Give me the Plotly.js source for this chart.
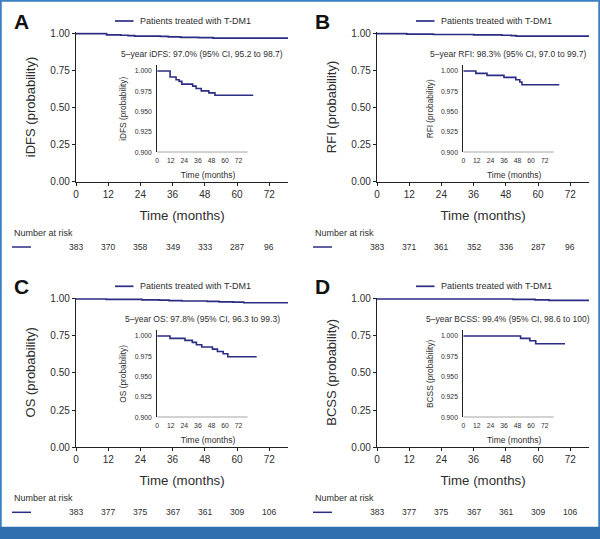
<!DOCTYPE html>
<html>
<head>
<meta charset="utf-8">
<script src="https://cdn.plot.ly/plotly-3.0.1.min.js"></script>
<style>html,body{margin:0;padding:0;background:#fff;}#chart{width:600px;height:539px;}</style>
</head>
<body>
<div id="chart"></div>
<script>
// ---- data ----
const panelLetters = ['A', 'B', 'C', 'D'];
const endpointNames = ['iDFS', 'RFI', 'OS', 'BCSS'];
const fiveYearTexts = [
  '5\u2013year iDFS: 97.0% (95% CI, 95.2 to 98.7)',
  '5\u2013year RFI: 98.3% (95% CI, 97.0 to 99.7)',
  '5\u2013year OS: 97.8% (95% CI, 96.3 to 99.3)',
  '5\u2013year BCSS: 99.4% (95% CI, 98.6 to 100)'
];
const seriesName = 'Patients treated with T-DM1';

const iDFS_time = [0, 11.4, 16.7, 19.4, 21.8, 31.4, 34.4, 39.0, 45.7, 51.1, 85];
const iDFS_surv = [1.000, 0.9926, 0.9893, 0.9872, 0.9839, 0.9814, 0.9785, 0.9756, 0.9731, 0.9702, 0.9702];

const RFI_time = [0, 11.1, 21.0, 36.0, 46.5, 50.0, 51.9, 85];
const RFI_surv = [1.000, 0.9971, 0.9946, 0.9921, 0.9893, 0.9864, 0.9831, 0.9831];

const OS_time = [0, 11.3, 24.6, 31.1, 34.7, 39.4, 48.9, 53.3, 58.4, 62.5, 88];
const OS_surv = [1.000, 0.9971, 0.9946, 0.9921, 0.9893, 0.9864, 0.9839, 0.9810, 0.9781, 0.9744, 0.9744];

const BCSS_time = [0, 50.7, 58.9, 64.1, 90];
const BCSS_surv = [1.000, 0.9971, 0.9942, 0.9905, 0.9905];

const riskTimes = [0, 12, 24, 36, 48, 60, 72];
const iDFS_risk = [383, 370, 358, 349, 333, 287, 96];
const RFI_risk = [383, 371, 361, 352, 336, 287, 96];
const OS_risk = [383, 377, 375, 367, 361, 309, 106];
const BCSS_risk = [383, 377, 375, 367, 361, 309, 106];

const xTicks = [0, 12, 24, 36, 48, 60, 72];
const mainYTicks = [0, 0.25, 0.5, 0.75, 1.0];
const insetYTicks = [0.900, 0.925, 0.950, 0.975, 1.000];

const times = [iDFS_time, RFI_time, OS_time, BCSS_time];
const survs = [iDFS_surv, RFI_surv, OS_surv, BCSS_surv];
const risks = [iDFS_risk, RFI_risk, OS_risk, BCSS_risk];

// ---- layout geometry (pixels of the 600x539 picture) ----
const W = 600, H = 539;
const PX = v => v / W;
const PY = v => 1 - v / H;

const NAVY = '#2b2d84';
const AX = '#222';
const TXT = '#2e2e2e';
const FONT = 'Liberation Sans, Arial, sans-serif';

const geo = [
  {ox: 0,   oy: 0},
  {ox: 301, oy: 0},
  {ox: 0,   oy: 265.3},
  {ox: 301, oy: 265.3}
];

const data = [];
const layout = {
  width: W, height: H,
  margin: {l: 0, r: 0, t: 0, b: 0},
  paper_bgcolor: '#fff', plot_bgcolor: 'rgba(0,0,0,0)',
  showlegend: false,
  font: {family: FONT, color: TXT},
  annotations: [],
  shapes: []
};

function axName(n) { return n === 1 ? '' : String(n); }

for (let i = 0; i < 4; i++) {
  const g = geo[i];
  const m = i + 1, s = i + 5;
  const mx = 'x' + axName(m), my = 'y' + axName(m);
  const sx = 'x' + axName(s), sy = 'y' + axName(s);

  data.push({
    type: 'scatter', mode: 'lines', x: times[i], y: survs[i],
    line: {shape: 'hv', color: NAVY, width: 1.7},
    xaxis: mx, yaxis: my, name: seriesName, hoverinfo: 'x+y'
  });
  data.push({
    type: 'scatter', mode: 'lines', x: times[i], y: survs[i],
    line: {shape: 'hv', color: NAVY, width: 1.6},
    xaxis: sx, yaxis: sy, name: seriesName, hoverinfo: 'x+y'
  });

  layout['xaxis' + axName(m)] = {
    domain: [PX(g.ox + 76), PX(g.ox + 288)],
    range: [0, 79], anchor: my,
    tickvals: xTicks, ticks: 'outside', ticklen: 3, tickcolor: AX, tickwidth: 1,
    showline: true, linecolor: AX, linewidth: 1.2, showgrid: false, zeroline: false,
    tickfont: {family: FONT, size: 10, color: TXT},
    title: {text: 'Time (months)', font: {family: FONT, size: 13.3, color: TXT}, standoff: 11}
  };
  layout['yaxis' + axName(m)] = {
    domain: [PY(g.oy + 181.7), PY(g.oy + 32.2)],
    range: [0, 1.01], anchor: mx,
    tickvals: mainYTicks, tickformat: '.2f', ticks: 'outside', ticklen: 3, tickcolor: AX, tickwidth: 1,
    showline: true, linecolor: AX, linewidth: 1.2, showgrid: false, zeroline: false,
    tickfont: {family: FONT, size: 10, color: TXT},
    title: {text: endpointNames[i] + ' (probability)', font: {family: FONT, size: 13, color: TXT}, standoff: 11}
  };

  const ix = (i % 2 === 0) ? 157.2 : 162.3;
  const iy = (i < 2) ? 0 : -0.3;
  layout['xaxis' + axName(s)] = {
    domain: [PX(g.ox + ix), PX(g.ox + ix + 101.7)],
    range: [0, 90], anchor: sy,
    tickvals: xTicks, ticks: '', showline: false, showgrid: false, zeroline: false,
    ticklabelstandoff: 3,
    tickfont: {family: FONT, size: 6.8, color: TXT},
    title: {text: 'Time (months)', font: {family: FONT, size: 8.5, color: TXT}, standoff: 8}
  };
  layout['yaxis' + axName(s)] = {
    domain: [PY(g.oy + iy + 152.3), PY(g.oy + iy + 65.3)],
    range: [0.9, 1.007], anchor: sx,
    tickvals: insetYTicks, tickformat: '.3f', ticks: '', showline: true, linecolor: AX, linewidth: 1,
    showgrid: false, zeroline: false,
    ticklabelstandoff: 3,
    tickfont: {family: FONT, size: 6.8, color: TXT},
    title: {text: endpointNames[i] + ' (probability)', font: {family: FONT, size: 8.3, color: TXT}, standoff: 6}
  };
  layout.shapes.push({type: 'line', xref: sx, yref: sy, x0: 0, x1: 80, y0: 0.9, y1: 0.9,
    line: {color: AX, width: 1}});

  layout.annotations.push({xref: 'paper', yref: 'paper', x: PX(g.ox + 11.5), y: PY(g.oy + 21),
    xanchor: 'left', yanchor: 'middle', showarrow: false, text: '<b>' + panelLetters[i] + '</b>',
    font: {family: FONT, size: 21, color: '#111'}});

  layout.shapes.push({type: 'line', xref: 'paper', yref: 'paper',
    x0: PX(g.ox + 115), x1: PX(g.ox + 133.5), y0: PY(g.oy + 21), y1: PY(g.oy + 21),
    line: {color: NAVY, width: 1.7}});
  layout.annotations.push({xref: 'paper', yref: 'paper', x: PX(g.ox + 137.5), y: PY(g.oy + 21),
    xanchor: 'left', yanchor: 'middle', showarrow: false, text: seriesName,
    font: {family: FONT, size: 9, color: TXT}});

  layout.annotations.push({xref: 'paper', yref: 'paper', x: PX(g.ox + (i % 2 === 0 ? 202 : 207)), y: PY(g.oy + 53.5),
    xanchor: 'center', yanchor: 'middle', showarrow: false, text: fiveYearTexts[i],
    font: {family: FONT, size: 8.5, color: TXT}});

  layout.annotations.push({xref: 'paper', yref: 'paper', x: PX(g.ox + 12), y: PY(g.oy + 232.7),
    xanchor: 'left', yanchor: 'middle', showarrow: false, text: 'Number at risk',
    font: {family: FONT, size: 9, color: TXT}});
  layout.shapes.push({type: 'line', xref: 'paper', yref: 'paper',
    x0: PX(g.ox + 12), x1: PX(g.ox + 31), y0: PY(g.oy + 247), y1: PY(g.oy + 247),
    line: {color: NAVY, width: 1.5}});
  for (let k = 0; k < riskTimes.length; k++) {
    layout.annotations.push({xref: mx, yref: 'paper', x: riskTimes[k], y: PY(g.oy + 247),
      xanchor: 'center', yanchor: 'middle', showarrow: false, text: String(risks[i][k]),
      font: {family: FONT, size: 8.5, color: TXT}});
  }
}

layout.shapes.push({type: 'rect', xref: 'paper', yref: 'paper', x0: 0, x1: 1, y0: 0, y1: 1,
  line: {color: '#3b80c4', width: 3.5}, fillcolor: 'rgba(0,0,0,0)', layer: 'above'});
layout.shapes.push({type: 'rect', xref: 'paper', yref: 'paper', x0: 0, x1: 1, y0: 0, y1: PY(526.8),
  line: {width: 0}, fillcolor: '#2e6fae', layer: 'above'});

Plotly.newPlot('chart', data, layout, {staticPlot: true, displayModeBar: false});
</script>
</body>
</html>
